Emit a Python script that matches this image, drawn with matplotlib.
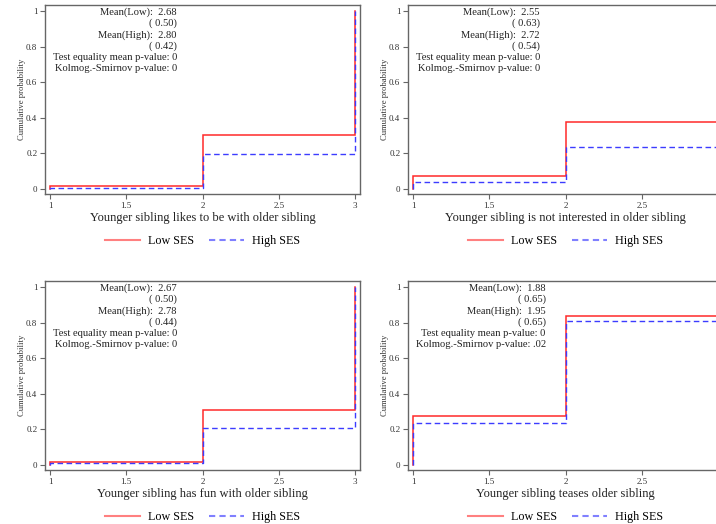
import matplotlib
matplotlib.use("Agg")
import matplotlib.pyplot as plt
from matplotlib.lines import Line2D

plt.rcParams['font.family'] = ['Liberation Serif', 'DejaVu Serif']

levels = [1, 2, 3]
titles = [
    "Younger sibling likes to be with older sibling",
    "Younger sibling is not interested in older sibling",
    "Younger sibling has fun with older sibling",
    "Younger sibling teases older sibling",
]
cdf_low = [
    [0.015, 0.305, 1.0],
    [0.075, 0.375, 1.0],
    [0.018, 0.310, 1.0],
    [0.277, 0.838, 1.0],
]
cdf_high = [
    [0.007, 0.197, 1.0],
    [0.042, 0.238, 1.0],
    [0.010, 0.210, 1.0],
    [0.238, 0.810, 1.0],
]
mean_low = ["2.68", "2.55", "2.67", "1.88"]
sd_low = ["0.50", "0.63", "0.50", "0.65"]
mean_high = ["2.80", "2.72", "2.78", "1.95"]
sd_high = ["0.42", "0.54", "0.44", "0.65"]
p_mean = ["0", "0", "0", "0"]
p_ks = ["0", "0", "0", ".02"]

xticks = [1, 1.5, 2, 2.5, 3]
xticklabels = ["1", "1.5", "2", "2.5", "3"]
yticks = [0, 0.2, 0.4, 0.6, 0.8, 1]
yticklabels = ["0", "0.2", "0.4", "0.6", "0.8", "1"]

W, H = 716, 524
fig = plt.figure(figsize=(W / 100, H / 100), dpi=100)

# pixel boxes: left, right, top, bottom
boxes = [
    (45, 360, 5, 194),
    (408, 723, 5, 194),
    (45, 360, 281, 470),
    (408, 723, 281, 470),
]

RED = '#ff2a2a'
BLUE = '#3c3cff'
FRAME = '#666666'

def steps(vals):
    xs = [levels[0]]
    ys = [0.0]
    prev = 0.0
    for i, lv in enumerate(levels):
        xs += [lv, lv]
        ys += [prev, vals[i]]
        prev = vals[i]
    return xs[1:], ys[1:]

for k, (l, r, t, b) in enumerate(boxes):
    ax = fig.add_axes([l / W, 1 - b / H, (r - l) / W, (b - t) / H])
    xl, yl = steps(cdf_low[k])
    xh, yh = steps(cdf_high[k])
    ax.plot(xl, yl, color=RED, lw=1.1, solid_joinstyle='miter')
    ax.plot(xh, yh, color=BLUE, lw=1.0, dashes=(4, 2.5))
    ax.set_xlim(1 - 5 / 152, 3 + 5 / 152)
    ax.set_ylim(-0.0281, 1.0337)
    ax.set_xticks(xticks)
    ax.set_xticklabels(xticklabels)
    ax.set_yticks(yticks)
    ax.set_yticklabels(yticklabels)
    ax.tick_params(axis='both', direction='out', length=3.5, width=0.8,
                   color=FRAME, labelsize=6.5, labelcolor='#333333', pad=2)
    for s in ax.spines.values():
        s.set_color(FRAME)
        s.set_linewidth(1.0)
    ax.set_ylabel("Cumulative probability", fontsize=6.2, color='#333333', labelpad=0)
    ax.set_xlabel(titles[k], fontsize=9.0, color='#222222', labelpad=2)
    txt = ("Mean(Low):  %s\n( %s)\nMean(High):  %s\n( %s)\n"
           "Test equality mean p-value: %s\nKolmog.-Smirnov p-value: %s") % (
        mean_low[k], sd_low[k], mean_high[k], sd_high[k], p_mean[k], p_ks[k])
    ax.text(1.017, 1.022, txt, ha='left', va='top', multialignment='right',
            fontsize=7.6, color='#222222', linespacing=1.26)
    handles = [Line2D([], [], color='#ff8080', lw=1.5),
               Line2D([], [], color='#8080ff', lw=1.5, dashes=(3, 2))]
    ax.legend(handles, ["Low SES", "High SES"], loc='upper center',
              bbox_to_anchor=(0.5, -0.19), ncol=2, frameon=False,
              fontsize=8.7, handlelength=2.9, columnspacing=1.2,
              handletextpad=0.7, borderaxespad=0)

fig.savefig("out.png", dpi=100)
